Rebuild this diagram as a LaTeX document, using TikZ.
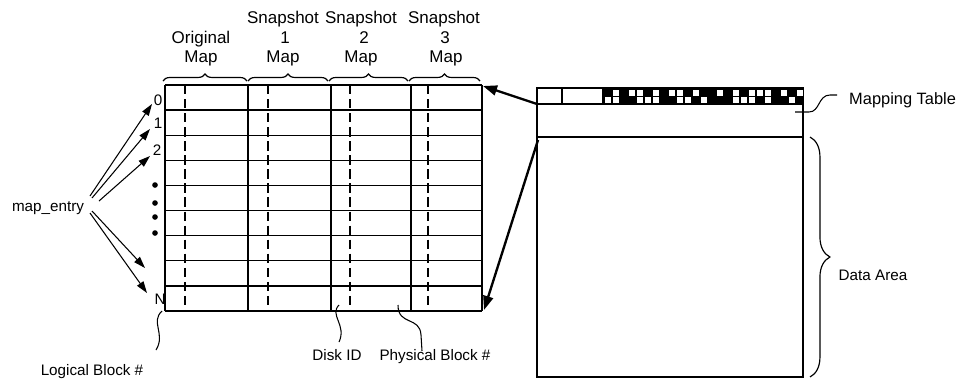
\documentclass[tikz,border=0pt]{standalone}
\usepackage{fontspec}
\setmainfont{Liberation Sans}
\usetikzlibrary{arrows.meta,decorations.pathreplacing}
\begin{document}
\begin{tikzpicture}[x=0.03cm,y=-0.03cm,
  lbl/.style={font=\fontsize{13}{15}\selectfont, inner sep=0pt},
  hdr/.style={font=\fontsize{14.5}{16}\selectfont, inner sep=0pt, anchor=base},
  rowline/.style={line width=1.1pt},
  colline/.style={line width=1.5pt},
  dsh/.style={line width=2pt, dash pattern=on 8pt off 4pt},
  thin/.style={line width=0.9pt},
  arr/.style={line width=0.9pt,-{Triangle[length=10pt,width=6.5pt]}},
  bigarr/.style={line width=2pt,-{Triangle[length=12pt,width=8.5pt]}},
  brc/.style={decorate,decoration={brace,amplitude=6pt},line width=1pt},
  brcbig/.style={decorate,decoration={brace,amplitude=17pt},line width=1pt},
  ]
\useasboundingbox (0,0) rectangle (959,383);

% ---- mapping table (left grid)
\foreach \i in {0,...,9} \draw[rowline] (165,{85+25.11*\i}) -- (482,{85+25.11*\i});
\foreach \x in {165,248,331,411,482} \draw[colline] (\x,85) -- (\x,311);
\foreach \x in {185,268,350,428} \draw[dsh] (\x,85) -- (\x,311);
\coordinate (tTR) at (483,86);
\coordinate (tBR) at (484,310);

% ---- braces above columns
\draw[brc] (163,81) -- (247,81);
\draw[brc] (248,81) -- (328,81);
\draw[brc] (329,81) -- (408,81);
\draw[brc] (409,81) -- (480,81);

% ---- column headers
\node[hdr] (om1) at (201,43) {Original};
\node[hdr] (om2) at (201,62) {Map};
\node[hdr] (sa1) at (283,23) {Snapshot};
\node[hdr] (sa2) at (285,43) {1};
\node[hdr] (sa3) at (283,62) {Map};
\node[hdr] (sb1) at (361,23) {Snapshot};
\node[hdr] (sb2) at (364,43) {2};
\node[hdr] (sb3) at (361,62) {Map};
\node[hdr] (sc1) at (444,23) {Snapshot};
\node[hdr] (sc2) at (445,43) {3};
\node[hdr] (sc3) at (446,62) {Map};

% ---- row labels
\node[lbl] (r0) at (158,100) {0};
\node[lbl] (r1) at (158,123) {1};
\node[lbl] (r2) at (157,150) {2};
\node[lbl] (rN) at (160,299) {N};
\foreach \y in {185,203,217,233} \fill (155,\y) circle (2.4pt);

% ---- map_entry and arrows
\node[lbl] (me) at (48,208) {map\_entry};
\coordinate (m1) at (90,196);
\coordinate (m2) at (92,198);
\coordinate (m3) at (99,201);
\coordinate (m4) at (92,211);
\coordinate (m5) at (90,213);
\coordinate (a0) at (152,104);
\coordinate (a1) at (150,129);
\coordinate (a2) at (150,156);
\coordinate (a3) at (145,268);
\coordinate (a4) at (147,293);
\draw[arr] (m1) -- (a0);
\draw[arr] (m2) -- (a1);
\draw[arr] (m3) -- (a2);
\draw[arr] (m4) -- (a3);
\draw[arr] (m5) -- (a4);

% ---- bottom labels with squiggles
\node[lbl] (lb) at (92,372) {Logical Block \#};
\draw[thin] (162,311) .. controls (150,322) and (166,334) .. (156,350);
\node[lbl] (did) at (337,355) {Disk ID};
\draw[thin] (339,305) .. controls (329,315) and (347,325) .. (339,342);
\node[lbl] (pb) at (435,357) {Physical Block \#};
\draw[thin] (398,305) .. controls (398,326) and (420,316) .. (421,335) -- (422,351);

% ---- right: mapping table + data area
\draw[rowline] (537,88) rectangle (803,137);
\draw[rowline] (537,104) -- (803,104);
\draw[rowline] (562,88) -- (562,104);
\draw[rowline] (603,88) -- (603,104);
\fill (603,88) rectangle (803,104);
\foreach \c in {1,3,4,6,8,9,11,14,16,18,19,20,22,24}
  \fill[white] ({604.5+8*\c},89.5) rectangle ({610.5+8*\c},95.5);
\foreach \c in {0,1,4,5,6,9,10,12,16,17,18,20,23}
  \fill[white] ({604.5+8*\c},97) rectangle ({610.5+8*\c},103);
\draw[rowline] (537,137) rectangle (803,377);
\coordinate (mtL) at (537,104);
\coordinate (daL) at (538,140);
\draw[bigarr] (mtL) -- (tTR);
\draw[bigarr] (daL) -- (tBR);

\node[lbl,anchor=west,font=\fontsize{14}{16}\selectfont] (mt) at (849,100) {Mapping Table};
\coordinate (mtlead) at (795,112);
\draw[thin] (mtlead) -- (809,112) .. controls (820,112) and (818,95) .. (830,95) -- (837,95);

\draw[brcbig] (810,137) -- (810,377);
\node[lbl] (da) at (873,275) {Data Area};
\end{tikzpicture}
\end{document}
